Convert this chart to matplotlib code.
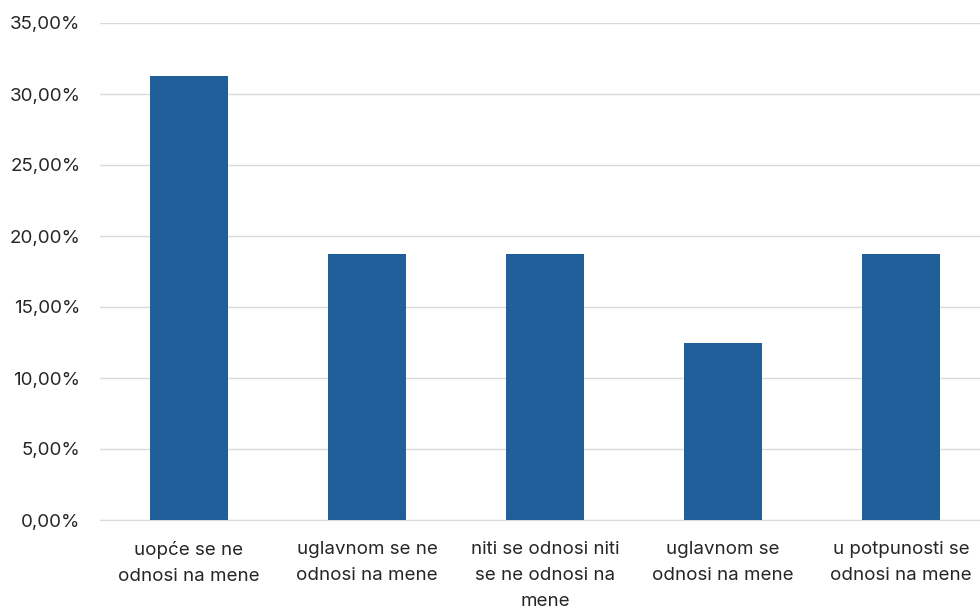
import matplotlib.pyplot as plt
from matplotlib.ticker import FuncFormatter

categories = [
    "uopće se ne\nodnosi na mene",
    "uglavnom se ne\nodnosi na mene",
    "niti se odnosi niti\nse ne odnosi na\nmene",
    "uglavnom se\nodnosi na mene",
    "u potpunosti se\nodnosi na mene",
]
values = [31.25, 18.75, 18.75, 12.5, 18.75]

plt.rcParams["font.family"] = ["Inter", "DejaVu Sans"]

fig = plt.figure(figsize=(9.8, 6.11), dpi=100)
ax = fig.add_axes([100 / 980, 1 - 520 / 611, 890 / 980, (520 - 23) / 611])

x = range(len(categories))
ax.bar(x, values, width=0.435, color="#215F9A", zorder=3)

ax.set_xlim(-0.5, len(categories) - 0.5)
ax.set_ylim(0, 35)
ax.set_yticks(range(0, 36, 5))
ax.yaxis.set_major_formatter(FuncFormatter(lambda v, _: f"{v:.2f}%".replace(".", ",")))
ax.grid(axis="y", color="#D9D9D9", linewidth=1, zorder=0)
ax.set_xticks(list(x))
ax.set_xticklabels(categories, linespacing=1.7)

for s in ["top", "right", "left"]:
    ax.spines[s].set_visible(False)
ax.spines["bottom"].set_color("#D9D9D9")
ax.tick_params(axis="both", length=0, labelsize=13.5, colors="#262626")
ax.tick_params(axis="x", pad=15)
ax.tick_params(axis="y", pad=14)

fig.savefig("out.png", dpi=100)
